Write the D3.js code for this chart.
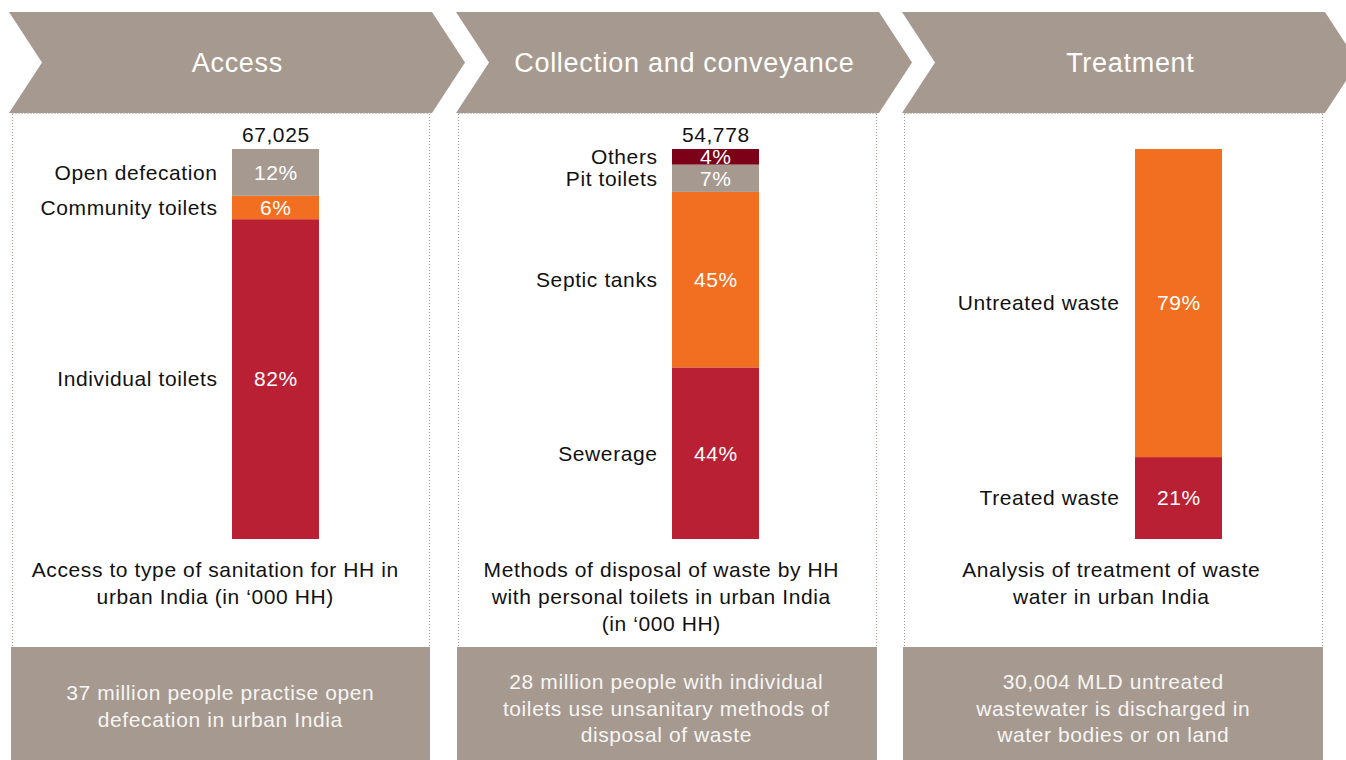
<!DOCTYPE html>
<html>
<head>
<meta charset="utf-8">
<script src="https://cdn.jsdelivr.net/npm/d3@7"></script>
<style>
  html, body { margin: 0; padding: 0; background: #fff; }
  svg { display: block; font-family: "Liberation Sans", Arial, Helvetica, sans-serif; }
  .t { font-size: 21px; letter-spacing: 0.6px; }
  .h { font-size: 27px; letter-spacing: 0.7px; }
</style>
</head>
<body>
<svg id="chart" width="1346" height="760"></svg>
<script>
// ---------- DATA ----------
const stageTitles = ["Access", "Collection and conveyance", "Treatment"];
const stageTotals = ["67,025", "54,778", ""];

// stacked from bottom to top
const accessCategories = ["Individual toilets", "Community toilets", "Open defecation"];
const accessValues = [82, 6, 12];

const disposalCategories = ["Sewerage", "Septic tanks", "Pit toilets", "Others"];
const disposalValues = [44, 45, 7, 4];

const treatmentCategories = ["Treated waste", "Untreated waste"];
const treatmentValues = [21, 79];

const captions = [
  ["Access to type of sanitation for HH in", "urban India (in \u2018000 HH)"],
  ["Methods of disposal of waste by HH", "with personal toilets in urban India", "(in \u2018000 HH)"],
  ["Analysis of treatment of waste", "water in urban India"]
];
const highlights = [
  ["37 million people practise open", "defecation in urban India"],
  ["28 million people with individual", "toilets use unsanitary methods of", "disposal of waste"],
  ["30,004 MLD untreated", "wastewater is discharged in", "water bodies or on land"]
];

// ---------- STYLE / LAYOUT ----------
const C = { grey: "#a69a90", orange: "#f26f21", red: "#b92034", dark: "#7d0019" };
const categoryColors = {
  "Individual toilets": C.red, "Community toilets": C.orange, "Open defecation": C.grey,
  "Sewerage": C.red, "Septic tanks": C.orange, "Pit toilets": C.grey, "Others": C.dark,
  "Treated waste": C.red, "Untreated waste": C.orange
};
const panelsData = [
  { cats: accessCategories, vals: accessValues },
  { cats: disposalCategories, vals: disposalValues },
  { cats: treatmentCategories, vals: treatmentValues }
];

const chevLeft = [9, 456, 902];
const chevW = 423, tip = 33, chevTop = 12, chevBot = 113;
const boxL = [11, 457, 903], boxR = [430, 877, 1323];
const barX = [232, 672, 1135], barW = 87;
const labelRight = [217.6, 657.6, 1119.6];
const captionCx = [215.3, 661.3, 1111.3];
const highlightCx = [220.3, 666.3, 1113.3];
const boxTop = 647;

const svg = d3.select("#chart");
const y = d3.scaleLinear().domain([0, 100]).range([539, 149]);

stageTitles.forEach((title, i) => {
  const x0 = chevLeft[i];
  const mid = (chevTop + chevBot) / 2;
  const pts = [
    [x0, chevTop], [x0 + chevW, chevTop], [x0 + chevW + tip, mid],
    [x0 + chevW, chevBot], [x0, chevBot], [x0 + tip, mid]
  ];
  svg.append("path").attr("d", d3.line()(pts) + "Z").attr("fill", C.grey);
  svg.append("text").attr("class", "h")
    .attr("x", x0 + (chevW + tip) / 2 + 0.35).attr("y", mid)
    .attr("dy", "0.35em").attr("text-anchor", "middle")
    .attr("fill", "#fff").text(title);

  // dotted panel outline
  const g = svg.append("g");
  const addLine = (x1, y1, x2, y2) => {
    g.append("line").attr("x1", x1).attr("y1", y1).attr("x2", x2).attr("y2", y2)
      .attr("stroke", C.grey).attr("stroke-width", 1).attr("stroke-dasharray", "1,2");
  };
  addLine(boxL[i] + 1.5, chevBot + 1, boxL[i] + 1.5, boxTop);
  addLine(boxR[i] - 0.5, chevBot + 1, boxR[i] - 0.5, boxTop);
  addLine(boxL[i] + 1.5, chevBot + 0.5, boxR[i] - 0.5, chevBot + 0.5);

  // bottom highlight box
  svg.append("rect").attr("x", boxL[i]).attr("y", boxTop)
    .attr("width", boxR[i] - boxL[i]).attr("height", 760 - boxTop).attr("fill", C.grey);

  const hl = highlights[i];
  const hlStart = hl.length === 2 ? 693 : 682;
  hl.forEach((line, j) => {
    svg.append("text").attr("class", "t").attr("x", highlightCx[i]).attr("y", hlStart + j * 26.5)
      .attr("dy", "0.35em").attr("text-anchor", "middle")
      .attr("fill", "#f7f5f3").text(line);
  });

  captions[i].forEach((line, j) => {
    svg.append("text").attr("class", "t").attr("x", captionCx[i]).attr("y", 570 + j * 27)
      .attr("dy", "0.35em").attr("text-anchor", "middle")
      .attr("fill", "#111").text(line);
  });

  // stacked bar
  const pd = panelsData[i];
  let acc = 0;
  const segs = pd.cats.map((c, k) => {
    const s = { cat: c, v: pd.vals[k], y0: acc, y1: acc + pd.vals[k] };
    acc += pd.vals[k];
    return s;
  });
  const bg = svg.append("g");
  bg.selectAll("rect").data(segs).join("rect")
    .attr("x", barX[i]).attr("width", barW)
    .attr("y", d => y(d.y1)).attr("height", d => y(d.y0) - y(d.y1))
    .attr("fill", d => categoryColors[d.cat]);
  bg.selectAll("text.pct").data(segs).join("text").attr("class", "pct t")
    .attr("x", barX[i] + barW / 2 + 0.3).attr("y", d => (y(d.y0) + y(d.y1)) / 2)
    .attr("dy", "0.35em").attr("text-anchor", "middle")
    .attr("fill", "#fff").text(d => d.v + "%");
  bg.selectAll("text.cat").data(segs).join("text").attr("class", "cat t")
    .attr("x", labelRight[i]).attr("y", d => (y(d.y0) + y(d.y1)) / 2)
    .attr("dy", "0.35em").attr("text-anchor", "end")
    .attr("fill", "#111").text(d => d.cat);
  if (stageTotals[i]) {
    svg.append("text").attr("class", "t").attr("x", barX[i] + barW / 2 + 0.3).attr("y", y(100) - 14)
      .attr("dy", "0.35em").attr("text-anchor", "middle")
      .attr("fill", "#111").text(stageTotals[i]);
  }
});
</script>
</body>
</html>
